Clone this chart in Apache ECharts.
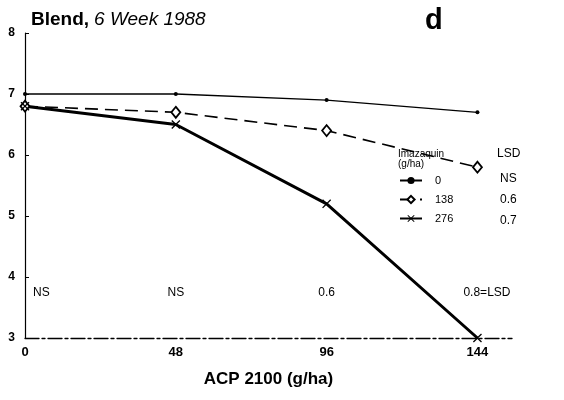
<!DOCTYPE html>
<html>
<head>
<meta charset="utf-8">
<script src="https://cdn.jsdelivr.net/npm/echarts@6/dist/echarts.min.js"></script>
<style>
  html, body { margin: 0; padding: 0; background: #fff; }
  #chart { width: 564px; height: 400px; }
</style>
</head>
<body>
<div id="chart"></div>
<script>
// ACP 2100 rates (g/ha) on the x axis
const acpRates = [0, 48, 96, 144];
// Imazaquin rates (g/ha) shown in the legend
const imazaquinRates = ['0', '138', '276'];
// Rating values for each imazaquin rate
const rating0 = [7.0, 7.0, 6.9, 6.7];
const rating138 = [6.8, 6.7, 6.4, 5.8];
const rating276 = [6.8, 6.5, 5.2, 3.0];
// LSD for each imazaquin rate, and for each ACP rate
const lsdImazaquin = ['NS', '0.6', '0.7'];
const lsdAcp = ['NS', 'NS', '0.6', '0.8=LSD'];
const lsdRowY = 3.74;
const yTicks = [3, 4, 5, 6, 7, 8];

const FONT = '"Liberation Sans", Arial, sans-serif';
const chart = echarts.init(document.getElementById('chart'));

const xSymbol = 'path://M0,1L1,0L5,4L9,0L10,1L6,5L10,9L9,10L5,6L1,10L0,9L4,5Z';

function pairs(vals) { return acpRates.map((x, i) => [x, vals[i]]); }

chart.setOption({
  animation: false,
  backgroundColor: '#fff',
  grid: { left: 25, top: 33, right: 52, bottom: 62 },
  title: [
    {
      text: '{b|Blend,} {i|6 Week 1988}',
      left: 26, top: 5,
      textStyle: {
        rich: {
          b: { fontFamily: FONT, fontWeight: 'bold', fontSize: 19, color: '#000' },
          i: { fontFamily: FONT, fontStyle: 'italic', fontWeight: 'normal', fontSize: 19, color: '#000' }
        }
      }
    },
    {
      text: 'd', left: 420, top: 1,
      textStyle: { fontFamily: FONT, fontSize: 29, fontWeight: 'bold', color: '#000' }
    }
  ],
  xAxis: {
    type: 'value', min: 0, max: 155,
    interval: 48,
    name: 'ACP 2100 (g/ha)', nameLocation: 'middle', nameGap: 33,
    nameTextStyle: { fontFamily: FONT, fontSize: 17, fontWeight: 'bold', color: '#000' },
    axisLine: { lineStyle: { color: '#000', width: 1.3, type: [14, 3, 3, 3] } },
    axisTick: { show: false },
    splitLine: { show: false },
    axisLabel: {
      fontFamily: FONT, fontSize: 13, fontWeight: 'bold', color: '#000', margin: 8,
      customValues: acpRates
    }
  },
  yAxis: {
    type: 'value', min: 3, max: 8, interval: 1,
    axisLine: { show: true, lineStyle: { color: '#000', width: 1.2 } },
    axisTick: { show: true, inside: true, length: 4, lineStyle: { color: '#000' } },
    splitLine: { show: false },
    axisLabel: {
      fontFamily: FONT, fontSize: 12, fontWeight: 'bold', color: '#000', margin: 10,
      customValues: yTicks
    }
  },
  legend: {
    orient: 'vertical', left: 394, top: 170,
    itemWidth: 22, itemHeight: 9, itemGap: 8,
    textStyle: { fontFamily: FONT, fontSize: 11, color: '#000', padding: [0, 0, 0, 8] },
    data: imazaquinRates
  },
  series: [
    {
      name: imazaquinRates[0], type: 'line', data: pairs(rating0),
      symbol: 'circle', symbolSize: 4, showSymbol: true,
      lineStyle: { color: '#000', width: 1.3 },
      itemStyle: { color: '#000' }
    },
    {
      name: imazaquinRates[1], type: 'line', data: pairs(rating138),
      symbol: 'diamond', symbolSize: [9, 11],
      lineStyle: { color: '#000', width: 1.6, type: [13, 7] },
      itemStyle: { color: '#fff', borderColor: '#000', borderWidth: 1.8 }
    },
    {
      name: imazaquinRates[2], type: 'line', data: pairs(rating276),
      symbol: xSymbol, symbolSize: 9,
      lineStyle: { color: '#000', width: 3 },
      itemStyle: { color: '#000' }
    },
    {
      // LSD across imazaquin rates at each ACP rate
      name: 'lsd-acp', type: 'scatter', symbolSize: 0,
      itemStyle: { color: '#000', opacity: 1 },
      silent: true,
      label: {
        show: true, position: 'inside', opacity: 1,
        fontFamily: FONT, fontSize: 12, color: '#000',
        textBorderWidth: 0,
        formatter: p => lsdAcp[p.dataIndex]
      },
      labelLayout: { hideOverlap: false },
      data: acpRates.map((x, i) => ({
        value: [x, lsdRowY],
        label: i === 0 ? { position: 'right', distance: 8 }
             : i === 3 ? { position: 'right', distance: -14 } : {}
      }))
    }
  ],
  graphic: [
    { type: 'text', left: 398, top: 149,
      style: { text: 'Imazaquin\n(g/ha)', font: '10px ' + FONT, fill: '#000', lineHeight: 10 } },
    { type: 'text', left: 497, top: 148,
      style: { text: 'LSD', font: '12px ' + FONT, fill: '#000' } }
  ].concat(lsdImazaquin.map((t, i) => ({
    type: 'text', left: 500, top: 173 + i * 21,
    style: { text: t, font: '12px ' + FONT, fill: '#000' }
  })))
});
</script>
</body>
</html>
